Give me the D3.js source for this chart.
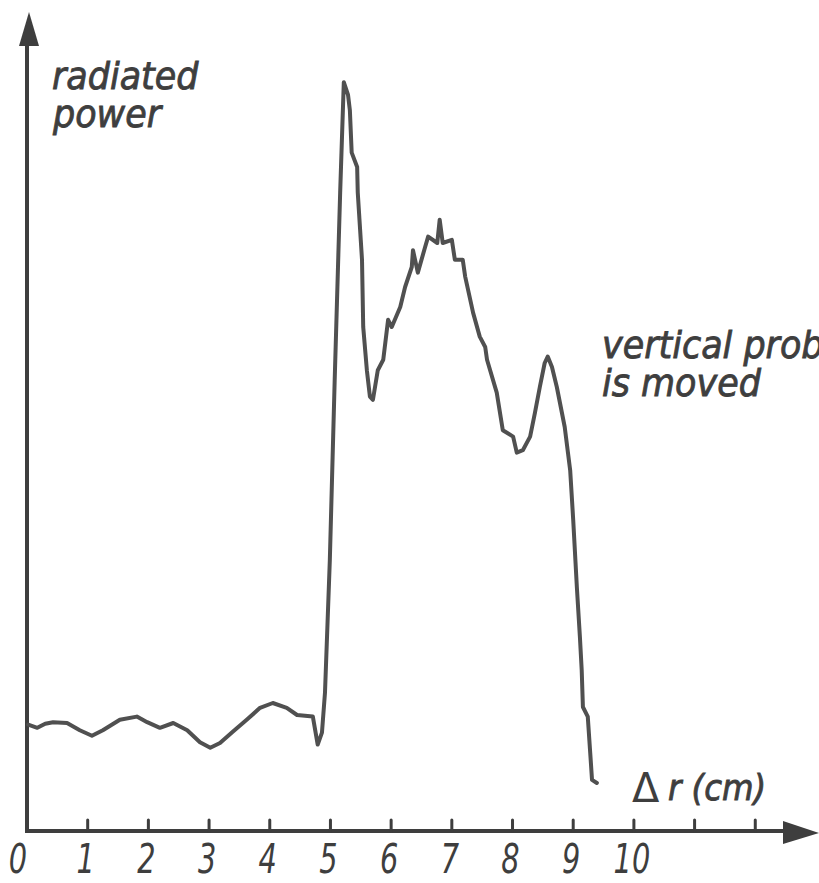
<!DOCTYPE html>
<html><head><meta charset="utf-8">
<script src="https://cdn.jsdelivr.net/npm/d3@7"></script>
<style>
html,body{margin:0;padding:0;background:#fff;}
svg{display:block;}
</style></head>
<body>
<script>
// ---- data ----
const tickValues = [1,2,3,4,5,6,7,8,9,10,11,12];
const tickLabels = ["0","1","2","3","4","5","6","7","8","9","10"];
const dr = [0.02,0.17,0.30,0.43,0.66,0.87,1.07,1.25,1.53,1.81,1.98,2.19,2.41,2.64,2.85,3.02,3.18,3.39,3.62,3.84,4.05,4.28,4.45,4.71,4.79,4.86,4.91,4.99,5.07,5.16,5.22,5.29,5.32,5.35,5.44,5.45,5.52,5.54,5.60,5.65,5.70,5.78,5.87,5.95,6.01,6.15,6.23,6.34,6.36,6.44,6.56,6.61,6.76,6.80,6.85,7.00,7.05,7.18,7.22,7.35,7.46,7.55,7.58,7.74,7.84,8.01,8.07,8.17,8.29,8.37,8.45,8.53,8.58,8.65,8.73,8.86,8.95,9.00,9.06,9.11,9.14,9.16,9.24,9.28,9.31,9.39];
const power = [13.3,12.9,13.4,13.6,13.5,12.6,11.9,12.6,13.9,14.3,13.6,12.9,13.5,12.6,11.1,10.4,11.0,12.4,13.9,15.4,16.0,15.4,14.5,14.3,10.8,12.3,17.3,33.9,56.4,79.8,93.6,92.0,90.1,84.8,83.0,79.8,71.4,63.0,57.6,54.3,53.9,57.6,58.9,63.9,63.0,65.5,68.0,70.5,72.6,69.8,73.0,74.3,73.5,76.4,73.5,73.9,71.4,71.4,69.3,64.8,61.8,60.5,58.9,54.8,50.1,49.3,47.3,47.6,49.3,52.3,55.5,58.5,59.3,58.0,55.5,50.5,45.1,38.9,30.5,24.3,20.1,15.5,14.3,9.8,6.4,6.0];

const W = 819, H = 883;
const ink = "#3e3e3e";
const svg = d3.select("body").append("svg").attr("width", W).attr("height", H);

const x = d3.scaleLinear().domain([0, 13.05]).range([27, 819]);
const y = d3.scaleLinear().domain([0, 100]).range([831, 31]);

// y axis
svg.append("line").attr("x1", x(0)).attr("x2", x(0)).attr("y1", y(0)+2).attr("y2", 40)
  .attr("stroke", ink).attr("stroke-width", 4);
svg.append("path").attr("d", `M${x(0)+2},12 L${x(0)-8},46 L${x(0)+12},46 Z`).attr("fill", ink);

// x axis
svg.append("line").attr("x1", x(0)-2).attr("x2", 790).attr("y1", y(0)).attr("y2", y(0))
  .attr("stroke", ink).attr("stroke-width", 4);
svg.append("path").attr("d", `M783,${y(0)-10} L819,${y(0)+2} L783,${y(0)+13} Z`).attr("fill", ink);

// ticks
svg.selectAll(".tk").data(tickValues).enter().append("line")
  .attr("x1", d => x(d)).attr("x2", d => x(d)).attr("y1", y(0)).attr("y2", y(0)-11)
  .attr("stroke", ink).attr("stroke-width", 3).attr("stroke-linecap", "round");

// tick labels
svg.selectAll(".tl").data(tickLabels).enter().append("text")
  .attr("transform", (d, i) => `translate(${x(i) - (i === 0 ? 9 : 2)},873) scale(0.72,1)`)
  .attr("text-anchor", "middle")
  .attr("font-family", "DejaVu Sans").attr("font-style", "italic").attr("font-weight", 300)
  .attr("font-size", 40).attr("fill", ink)
  .text(d => d);

// curve
const line = d3.line().x((d, i) => x(dr[i])).y(d => y(d)).curve(d3.curveLinear);
svg.append("path").datum(power).attr("d", line).attr("fill", "none")
  .attr("stroke", "#505050").attr("stroke-width", 4).attr("stroke-linejoin", "round").attr("stroke-linecap", "round");

// labels
function label(txt, tx, ty, size, sx) {
  svg.append("text").attr("transform", `translate(${tx},${ty}) scale(${sx},1)`)
    .attr("font-family", "DejaVu Sans").attr("font-style", "italic")
    .attr("font-size", size).attr("fill", ink)
    .attr("stroke", ink).attr("stroke-width", 0.9).text(txt);
}
label("radiated", 52, 89, 38, 0.92);
label("power", 53, 127, 38, 0.92);
label("vertical probe", 602, 358, 38, 0.92);
label("is moved", 602, 396, 38, 0.92);

svg.append("text").attr("x", 632).attr("y", 802)
  .attr("font-family", "DejaVu Sans").attr("font-size", 40).attr("fill", ink).text("Δ");
label("r (cm)", 668, 800, 36, 0.9);
</script>
</body></html>
